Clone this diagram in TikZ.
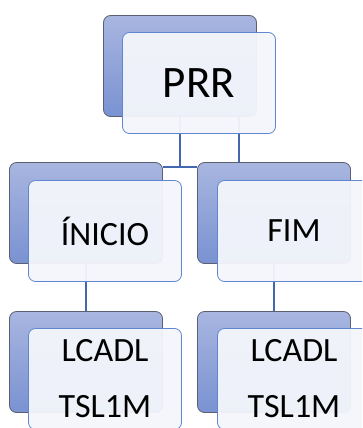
\documentclass[tikz,border=0pt]{standalone}
\usepackage{fontspec}
\setmainfont{Carlito}
\usepackage{tikz}
\definecolor{backtop}{RGB}{168,182,224}
\definecolor{backbot}{RGB}{122,146,210}
\definecolor{backedge}{RGB}{90,96,112}
\definecolor{frontfill}{RGB}{244,246,251}
\definecolor{frontedge}{RGB}{95,135,208}
\definecolor{linkblue}{RGB}{68,104,174}
\tikzset{
    backbox/.style={minimum width=153pt, minimum height=101pt, inner sep=0pt,
        rounded corners=7pt, draw=backedge, line width=0.8pt,
        top color=backtop, bottom color=backbot},
    frontbox/.style={minimum width=153pt, minimum height=101pt, inner sep=0pt,
        rounded corners=7pt, draw=frontedge, line width=0.8pt,
        fill=frontfill, fill opacity=0.95, text opacity=1, align=center},
    link/.style={draw=linkblue, line width=1.6pt},
}

\begin{document}
\begin{tikzpicture}[x=1pt, y=-1pt]
\clip (0,0) rectangle (362,428);
\node[backbox] (prrback) at (180,66) {};
\node[backbox] (inicioback) at (86,213) {};
\node[backbox] (fimback) at (274,213) {};
\node[backbox] (lcadlaback) at (86,362) {};
\node[backbox] (lcadlbback) at (274,362) {};
% ligacoes
\coordinate (split) at (prrback.south |- 0,167);
\draw[link] (prrback.south) -- (split);
\draw[link] (inicioback.east |- split) -- (fimback.west |- split);
\draw[link] ([xshift=59pt]prrback.south) -- ([xshift=59pt]prrback.south |- fimback.north);
\draw[link] (inicioback.south) -- (lcadlaback.north);
\draw[link] (fimback.south) -- (lcadlbback.north);
% caixas da frente
\node[frontbox, font=\fontsize{45}{54}\selectfont] (prr) at (199,83) {PRR};
\node[frontbox, font=\fontsize{34}{40}\selectfont] (inicio) at (105,231) {ÍNICIO};
\node[frontbox, font=\fontsize{34}{40}\selectfont] (fim) at (294,231) {FIM};
\node[frontbox, font=\fontsize{34}{56}\selectfont] (lcadla) at (105,379) {LCADL\\TSL1M};
\node[frontbox, font=\fontsize{34}{56}\selectfont] (lcadlb) at (294,379) {LCADL\\TSL1M};
\end{tikzpicture}
\end{document}
